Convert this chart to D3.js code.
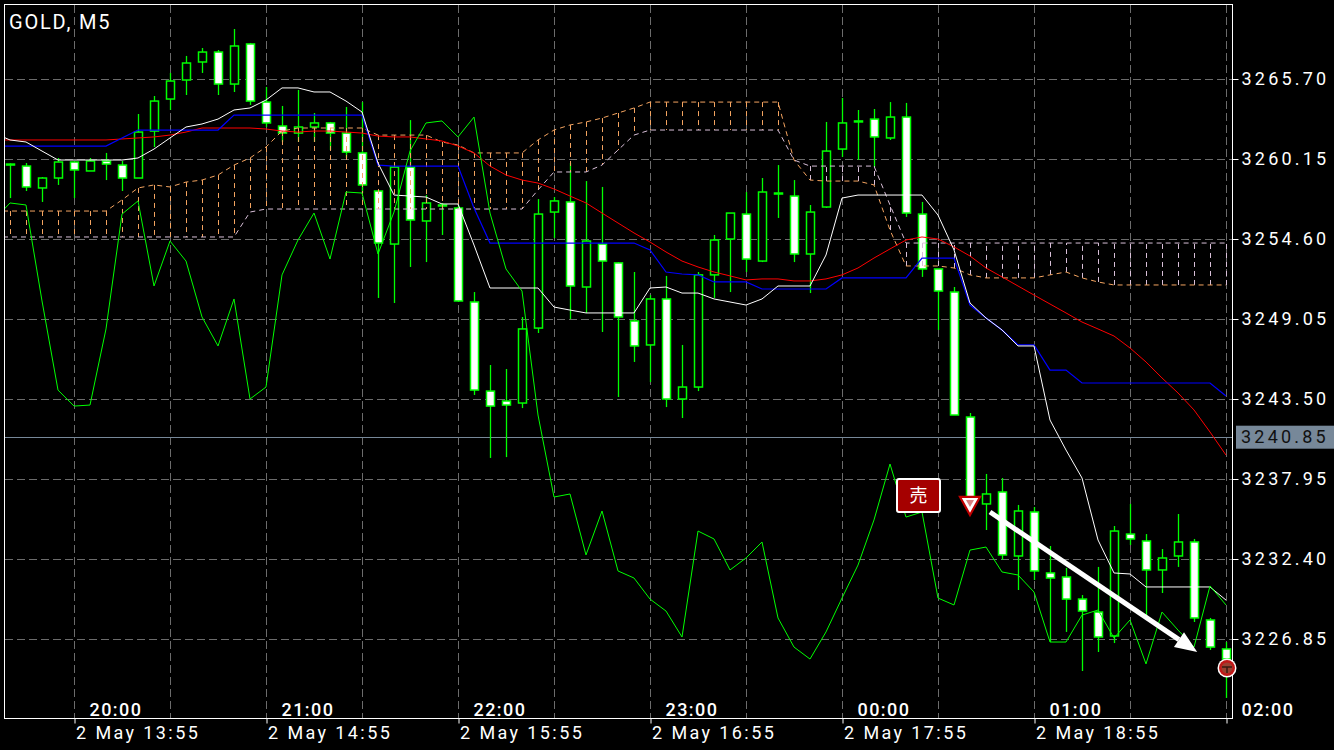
<!DOCTYPE html>
<html><head><meta charset="utf-8">
<script src="https://cdn.jsdelivr.net/npm/d3@7"></script>
<style>
html,body{margin:0;padding:0;background:#000;overflow:hidden;}
svg{display:block;}
</style></head>
<body>
<svg id="chart" width="1334" height="750"></svg>
<script>
// ---------------- DATA ----------------
const symbolTitle = "GOLD, M5";
const opens = [3259.80,3259.66,3258.14,3258.83,3259.94,3259.32,3260.01,3259.73,3258.83,3262.09,3264.31,3265.63,3266.88,3267.57,3265.35,3268.13,3264.10,3262.44,3261.95,3262.37,3262.65,3261.95,3260.57,3257.93,3254.25,3259.59,3255.85,3256.96,3256.75,3250.23,3244.05,3243.36,3243.22,3248.42,3256.47,3257.17,3251.27,3254.25,3252.94,3248.91,3247.25,3250.44,3243.50,3244.33,3252.11,3254.60,3256.33,3253.07,3257.79,3257.58,3253.56,3256.82,3260.84,3262.72,3262.92,3261.61,3263.06,3256.33,3252.52,3250.92,3242.25,3236.22,3237.05,3232.61,3235.66,3231.43,3231.15,3229.62,3228.72,3227.06,3234.13,3233.65,3231.64,3232.61,3233.58,3228.17,3226.16];
const highs = [3259.85,3259.87,3258.90,3260.22,3259.94,3260.22,3260.57,3260.01,3263.27,3264.52,3266.12,3267.30,3267.85,3267.71,3269.17,3268.20,3265.15,3263.83,3264.94,3263.34,3262.72,3263.76,3264.10,3258.00,3259.66,3262.85,3257.65,3257.10,3256.96,3250.92,3245.86,3245.58,3249.19,3257.37,3257.51,3259.87,3258.62,3258.21,3253.00,3252.31,3250.71,3252.04,3247.25,3252.31,3254.88,3256.40,3257.86,3258.83,3259.73,3258.69,3256.96,3262.72,3264.38,3263.55,3263.62,3264.10,3264.04,3257.17,3252.52,3251.27,3242.53,3238.30,3238.02,3236.15,3236.01,3233.30,3231.78,3229.90,3231.85,3234.69,3236.22,3234.13,3233.09,3235.52,3233.79,3228.31,3226.64];
const lows = [3257.44,3257.93,3257.17,3258.35,3257.44,3259.32,3258.69,3257.93,3258.83,3260.98,3263.55,3264.59,3266.12,3264.59,3264.80,3263.90,3262.37,3261.33,3261.33,3261.33,3260.77,3260.22,3257.79,3250.51,3250.16,3252.66,3253.00,3254.88,3250.23,3243.78,3239.41,3239.47,3242.87,3248.08,3254.67,3249.05,3249.47,3248.15,3243.64,3246.07,3244.68,3242.94,3242.18,3244.05,3250.51,3250.92,3252.31,3253.00,3256.06,3253.00,3250.85,3256.75,3260.29,3260.08,3259.59,3261.47,3256.13,3251.97,3248.29,3242.39,3236.49,3234.41,3232.33,3230.25,3230.94,3226.64,3227.34,3224.63,3225.95,3226.57,3233.37,3228.38,3230.04,3231.85,3228.03,3226.09,3222.76];
const closes = [3259.80,3258.21,3258.83,3259.94,3259.39,3260.01,3259.80,3258.83,3262.02,3264.17,3265.56,3266.81,3267.57,3265.35,3267.99,3264.17,3262.65,3261.95,3262.37,3262.65,3261.95,3260.63,3258.35,3254.32,3259.59,3255.92,3257.10,3256.96,3250.30,3244.12,3243.01,3243.08,3248.36,3256.33,3257.24,3251.34,3254.46,3253.07,3249.19,3247.18,3250.44,3243.50,3244.33,3252.11,3254.53,3256.40,3253.21,3257.86,3257.79,3253.56,3256.47,3260.70,3262.65,3262.79,3261.68,3263.06,3256.40,3252.52,3250.99,3242.39,3236.70,3236.91,3232.68,3235.73,3231.57,3231.08,3229.62,3228.79,3226.99,3234.34,3233.79,3231.64,3232.47,3233.58,3228.31,3226.29,3225.46];
// closes of the bars after the visible window (needed by the lagging span)
const laterCloses = [3227.34,3229.69,3231.98,3235.11,3238.99,3235.31,3235.66,3229.69,3229.21,3233.02,3233.23,3231.50,3231.29,3230.11,3226.64,3226.64,3228.51,3228.86,3226.92,3228.17,3225.12,3228.72,3227.47,3226.29,3230.53,3229.21];
// indicator series for bars -1 .. 76
const tenkan = [3261.95,3261.47,3261.33,3260.70,3260.08,3260.08,3260.08,3260.08,3260.08,3260.22,3260.84,3261.61,3262.37,3262.58,3262.92,3263.55,3263.69,3264.24,3265.08,3265.08,3264.80,3264.80,3264.17,3263.41,3259.87,3257.65,3257.58,3257.51,3257.03,3257.03,3254.18,3251.20,3251.20,3251.20,3251.20,3249.88,3249.67,3249.47,3249.47,3249.47,3249.47,3251.20,3251.27,3250.85,3250.85,3250.44,3250.23,3250.02,3250.44,3251.34,3251.34,3251.34,3253.49,3257.44,3257.65,3257.65,3257.65,3257.65,3257.65,3256.26,3253.84,3250.16,3249.12,3248.29,3247.18,3247.18,3242.04,3239.96,3238.02,3233.72,3231.43,3231.36,3230.46,3230.46,3230.46,3230.46,3230.46,3229.55];
const kijun = [3261.05,3261.05,3261.05,3261.05,3261.05,3261.05,3261.05,3261.05,3261.61,3262.16,3262.16,3262.16,3262.16,3262.16,3262.16,3263.20,3263.20,3263.20,3263.20,3263.20,3263.20,3263.20,3263.20,3263.20,3259.73,3259.66,3259.66,3259.66,3259.66,3259.66,3256.75,3254.32,3254.32,3254.32,3254.32,3254.32,3254.32,3254.32,3254.32,3254.32,3254.32,3253.84,3252.31,3252.17,3252.11,3251.62,3251.62,3251.62,3251.13,3251.13,3251.13,3251.13,3251.13,3251.90,3251.90,3251.90,3251.90,3251.90,3253.28,3253.28,3253.28,3250.02,3249.12,3248.29,3247.25,3247.25,3245.51,3245.51,3244.61,3244.61,3244.61,3244.61,3244.61,3244.61,3244.61,3244.61,3244.61,3243.71];
const movingAvg = [3261.47,3261.47,3261.47,3261.47,3261.47,3261.47,3261.47,3261.47,3261.54,3261.61,3261.68,3261.81,3262.02,3262.30,3262.30,3262.30,3262.30,3262.23,3262.09,3262.02,3262.09,3262.09,3262.02,3261.95,3261.74,3261.68,3261.68,3261.54,3261.40,3261.05,3260.57,3259.66,3259.04,3258.69,3258.48,3258.07,3257.58,3257.10,3256.40,3255.71,3255.02,3254.39,3253.70,3253.07,3252.66,3252.31,3252.04,3251.76,3251.83,3251.83,3251.69,3251.69,3251.83,3252.11,3252.59,3253.28,3253.91,3254.53,3254.74,3254.60,3254.05,3253.42,3252.59,3251.97,3251.34,3250.71,3250.09,3249.47,3248.84,3248.36,3247.87,3247.04,3246.07,3244.96,3243.92,3242.74,3241.21,3239.61];
const spanA = [3256.54,3256.54,3256.54,3256.54,3256.54,3256.54,3256.54,3256.54,3257.31,3258.14,3258.35,3258.21,3258.55,3258.69,3259.04,3259.73,3260.22,3260.98,3262.09,3262.30,3262.30,3262.30,3262.30,3262.30,3261.81,3261.81,3261.81,3261.81,3261.33,3261.12,3260.57,3260.57,3260.57,3260.57,3261.47,3262.16,3262.51,3262.72,3262.99,3263.34,3263.69,3264.10,3264.10,3264.10,3264.10,3264.10,3264.10,3264.10,3264.10,3264.10,3260.08,3258.69,3258.62,3258.62,3258.62,3258.35,3255.22,3252.73,3252.73,3252.73,3252.59,3252.11,3251.90,3251.90,3251.90,3251.90,3252.11,3252.31,3251.90,3251.62,3251.41,3251.41,3251.41,3251.41,3251.41,3251.41,3251.41,3251.41];
const spanB = [3254.74,3254.74,3254.74,3254.74,3254.74,3254.74,3254.74,3254.74,3254.74,3254.74,3254.74,3254.74,3254.74,3254.74,3254.74,3254.74,3256.47,3256.68,3256.68,3256.68,3256.68,3256.68,3256.68,3256.68,3256.68,3256.68,3256.68,3256.68,3256.68,3256.68,3256.68,3256.68,3256.68,3256.68,3258.00,3259.25,3259.25,3259.25,3259.73,3260.77,3261.81,3262.16,3262.16,3262.16,3262.16,3262.16,3262.16,3262.16,3262.16,3262.16,3260.08,3259.66,3259.66,3259.66,3259.66,3259.66,3256.96,3254.32,3254.32,3254.32,3254.32,3254.32,3254.32,3254.32,3254.32,3254.32,3254.32,3254.32,3254.32,3254.32,3254.32,3254.32,3254.32,3254.32,3254.32,3254.32,3254.32,3254.32];
const priceTicks = [3265.70,3260.15,3254.60,3249.05,3243.50,3237.95,3232.40,3226.85];
const gridBars = [4,10,16,22,28,34,40,46,52,58,64,70,76];
const hourBars = [4,16,28,40,52,64,76];
const hourLabels = ["20:00","21:00","22:00","23:00","00:00","01:00","02:00"];
const dateLabels = ["2 May 13:55","2 May 14:55","2 May 15:55","2 May 16:55","2 May 17:55","2 May 18:55",""];
const currentPrice = 3240.85;
const sellSignal = {bar: 60, price: 3236.15, label: "売"};
const trendArrow = {fromBar: 61.25, fromPrice: 3235.66, toBar: 74.2, toPrice: 3225.95};
const closeMarker = {bar: 76, price: 3224.84};

// ---------------- CHART ----------------
const svg = d3.select("#chart");
const FONT = "Roboto, 'Noto Sans', 'DejaVu Sans', sans-serif";
const plotL = 5, plotT = 5, plotR = 1232, plotB = 718;

svg.append("rect").attr("width",1334).attr("height",750).attr("fill","#000");

const x = d3.scaleLinear().domain([0,76]).range([10,1226]);
const y = d3.scaleLinear().domain([3226.85,3265.70]).range([639,79]);

svg.append("defs").append("clipPath").attr("id","plotclip")
  .append("rect").attr("x",plotL).attr("y",plotT).attr("width",plotR-plotL).attr("height",plotB-plotT);

const grid = svg.append("g").attr("clip-path","url(#plotclip)");
grid.selectAll("line.h").data(priceTicks).join("line")
  .attr("x1",plotL).attr("x2",plotR)
  .attr("y1",d=>Math.round(y(d))+0.5).attr("y2",d=>Math.round(y(d))+0.5)
  .attr("stroke","#6c6c6c").attr("stroke-width",1).attr("stroke-dasharray","8,4");
grid.selectAll("line.v").data(gridBars).join("line")
  .attr("x1",d=>x(d)+0.5).attr("x2",d=>x(d)+0.5)
  .attr("y1",plotT).attr("y2",plotB)
  .attr("stroke","#6c6c6c").attr("stroke-width",1).attr("stroke-dasharray","8,4");

// current price line (behind candles)
svg.append("line").attr("x1",plotL).attr("x2",plotR)
  .attr("y1",Math.round(y(currentPrice))+0.5).attr("y2",Math.round(y(currentPrice))+0.5)
  .attr("stroke","#778899").attr("stroke-width",1);

const chart = svg.append("g").attr("clip-path","url(#plotclip)");

// candles
const bars = d3.range(opens.length).map(i=>({i,o:opens[i],h:highs[i],l:lows[i],c:closes[i]}));
const cg = chart.append("g");
cg.selectAll("line.wick").data(bars).join("line")
  .attr("x1",d=>x(d.i)+0.5).attr("x2",d=>x(d.i)+0.5)
  .attr("y1",d=>y(d.h)).attr("y2",d=>y(d.l))
  .attr("stroke","#00ff00").attr("stroke-width",1.3);
cg.selectAll("rect.body").data(bars).join("rect")
  .attr("x",d=>x(d.i)-3.5).attr("width",8)
  .attr("y",d=>Math.min(y(d.o),y(d.c)))
  .attr("height",d=>Math.max(1,Math.abs(y(d.o)-y(d.c))))
  .attr("fill",d=>d.c>=d.o?"#000":"#fff")
  .attr("stroke","#00ff00").attr("stroke-width",1.5);

// indicator index: bars -1..76
const idx = d3.range(-1,77);
const line = d3.line().x(d=>x(d[0])).y(d=>y(d[1]));
const ser = arr => idx.map((b,k)=>[b,arr[k]]);

// cloud hatching
const ig = chart.append("g");
ig.selectAll("line.hatch").data(idx.map((b,k)=>({b,a:spanA[k],s:spanB[k]}))).join("line")
  .attr("x1",d=>x(d.b)+0.5).attr("x2",d=>x(d.b)+0.5)
  .attr("y1",d=>y(d.a)).attr("y2",d=>y(d.s))
  .attr("stroke",d=>d.a>=d.s?"#f4a460":"#d8bfd8").attr("stroke-width",1)
  .attr("stroke-dasharray","5,4");
ig.append("path").attr("d",line(ser(spanA))).attr("fill","none")
  .attr("stroke","#f4a460").attr("stroke-width",1).attr("stroke-dasharray","5,4");
ig.append("path").attr("d",line(ser(spanB))).attr("fill","none")
  .attr("stroke","#d8bfd8").attr("stroke-width",1).attr("stroke-dasharray","5,4");

ig.append("path").attr("d",line(ser(movingAvg))).attr("fill","none").attr("stroke","#ff0000").attr("stroke-width",1);
ig.append("path").attr("d",line(ser(kijun))).attr("fill","none").attr("stroke","#0000ff").attr("stroke-width",1.2);
ig.append("path").attr("d",line(ser(tenkan))).attr("fill","none").attr("stroke","#ffffff").attr("stroke-width",1);

// lagging span: close shifted 26 bars back
const allCloses = closes.concat(laterCloses);
const chikou = idx.map(b=>[b, allCloses[b+26]]);
ig.append("path").attr("d",line(chikou)).attr("fill","none").attr("stroke","#00ff00").attr("stroke-width",1);

// frame
svg.append("rect").attr("x",4.5).attr("y",4.5).attr("width",plotR-4).attr("height",plotB-4)
  .attr("fill","none").attr("stroke","#fff").attr("stroke-width",1);

// price axis
const yAxis = d3.axisRight(y).tickValues(priceTicks).tickFormat(d3.format(".2f")).tickSize(6).tickPadding(3);
const ya = svg.append("g").attr("transform",`translate(${plotR+0.5},0)`).call(yAxis);
ya.select(".domain").remove();
ya.selectAll(".tick line").attr("stroke","#fff");
ya.selectAll(".tick text").attr("fill","#fff").style("font-family",FONT).style("font-size","18px")
  .style("letter-spacing","3.2px");

// current price tag
svg.append("rect").attr("x",1236).attr("y",y(currentPrice)-11.5).attr("width",98).attr("height",23).attr("fill","#778899");
svg.append("text").attr("x",1241).attr("y",y(currentPrice)).attr("dy","0.35em")
  .attr("fill","#111").style("font-family",FONT).style("font-size","18px").style("letter-spacing","3.2px")
  .text(d3.format(".2f")(currentPrice));

// time axis
const xAxis = d3.axisBottom(x).tickValues(hourBars).tickSize(5)
  .tickFormat((d,k)=>dateLabels[k]);
const xa = svg.append("g").attr("transform",`translate(0.5,${plotB+0.5})`).call(xAxis);
xa.select(".domain").remove();
xa.selectAll(".tick line").attr("stroke","#fff");
xa.selectAll(".tick text").attr("fill","#fff").attr("text-anchor","start").attr("x",1).attr("y",8).attr("dy","0.71em")
  .style("font-family",FONT).style("font-size","18px").style("letter-spacing","2.4px");

svg.append("g").selectAll("text").data(hourBars).join("text")
  .attr("x",d=>x(d)+42).attr("y",716).attr("text-anchor","middle")
  .attr("fill","#fff").style("font-family",FONT).style("font-size","18px").style("font-weight","500")
  .style("letter-spacing","1.5px")
  .text((d,k)=>hourLabels[k]);

// title
svg.append("text").attr("x",9).attr("y",29).attr("fill","#fff")
  .style("font-family",FONT).style("font-size","20px").style("letter-spacing","1.8px").text(symbolTitle);

// sell signal
const sx = x(sellSignal.bar), sy = y(sellSignal.price);
svg.append("path").attr("d",`M${sx-10},${sy-8}L${sx+10},${sy-8}L${sx},${sy+10}Z`)
  .attr("fill","#fff").attr("stroke","#c00000").attr("stroke-width",2.2);
svg.append("path").attr("d",`M${sx-4},${sy-5}L${sx+4},${sy-5}L${sx},${sy+2}Z`).attr("fill","#d98080");
svg.append("rect").attr("x",sx-73).attr("y",sy-26).attr("width",43).attr("height",33).attr("rx",2)
  .attr("fill","#a50000").attr("stroke","#fff").attr("stroke-width",2);
svg.append("text").attr("x",sx-51.5).attr("y",sy-9.5).attr("dy","0.35em").attr("text-anchor","middle")
  .attr("fill","#fff").style("font-family","'Noto Sans CJK JP', sans-serif").style("font-size","18px")
  .text(sellSignal.label);

// trend arrow
const ax1 = x(trendArrow.fromBar), ay1 = y(trendArrow.fromPrice);
const ax2 = x(trendArrow.toBar), ay2 = y(trendArrow.toPrice);
const ang = Math.atan2(ay2-ay1, ax2-ax1), hl = 22, hw = 9;
const bx = ax2 - hl*Math.cos(ang), by = ay2 - hl*Math.sin(ang);
svg.append("line").attr("x1",ax1).attr("y1",ay1).attr("x2",bx).attr("y2",by)
  .attr("stroke","#fff").attr("stroke-width",5);
svg.append("path").attr("d",`M${ax2},${ay2}L${bx+hw*Math.sin(ang)},${by-hw*Math.cos(ang)}L${bx-hw*Math.sin(ang)},${by+hw*Math.cos(ang)}Z`)
  .attr("fill","#fff");

// last close marker
const mx = x(closeMarker.bar)+1, my = y(closeMarker.price);
svg.append("circle").attr("cx",mx).attr("cy",my).attr("r",9.5).attr("fill","#fff");
svg.append("circle").attr("cx",mx).attr("cy",my).attr("r",8).attr("fill","#c01818");
svg.append("circle").attr("cx",mx).attr("cy",my).attr("r",5.5).attr("fill","#9a4030");
svg.append("path").attr("d",`M${mx-5},${my-1}L${mx+5},${my-1}M${mx},${my-1}L${mx},${my+5}`)
  .attr("stroke","#3a1a10").attr("stroke-width",1.5);
</script>
</body></html>
